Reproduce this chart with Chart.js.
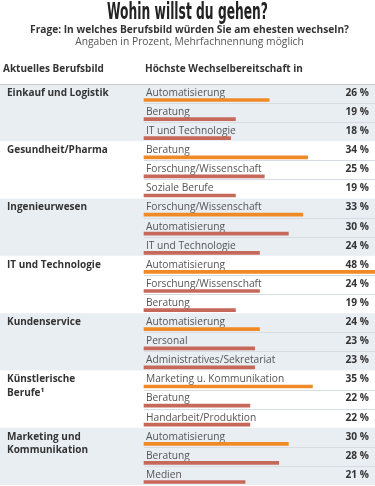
<!DOCTYPE html>
<html>
<head>
<meta charset="utf-8">
<script src="https://cdn.jsdelivr.net/npm/chart.js@4.4.1/dist/chart.umd.min.js"></script>
<style>
  html, body { margin: 0; padding: 0; background: #fff; }
  #wrap { width: 375px; height: 486px; position: relative; }
</style>
</head>
<body>
<div id="wrap"><canvas id="chart" width="375" height="486"></canvas></div>
<script>
// Data
const groupLabels = [
    ['Einkauf und Logistik'],
    ['Gesundheit/Pharma'],
    ['Ingenieurwesen'],
    ['IT und Technologie'],
    ['Kundenservice'],
    ['Künstlerische', 'Berufe¹'],
    ['Marketing und', 'Kommunikation']
];
const groupSizes = [3, 3, 3, 3, 3, 3, 3];
const categories = [
    'Automatisierung', 'Beratung', 'IT und Technologie',
    'Beratung', 'Forschung/Wissenschaft', 'Soziale Berufe',
    'Forschung/Wissenschaft', 'Automatisierung', 'IT und Technologie',
    'Automatisierung', 'Forschung/Wissenschaft', 'Beratung',
    'Automatisierung', 'Personal', 'Administratives/Sekretariat',
    'Marketing u. Kommunikation', 'Beratung', 'Handarbeit/Produktion',
    'Automatisierung', 'Beratung', 'Medien'
];
const values = [
    26, 19, 18,
    34, 25, 19,
    33, 30, 24,
    48, 24, 19,
    24, 23, 23,
    35, 22, 22,
    30, 28, 21
];

const title = 'Wohin willst du gehen?';
const subtitle = 'Frage: In welches Berufsbild würden Sie am ehesten wechseln?';
const note = 'Angaben in Prozent, Mehrfachnennung möglich';
const colHeaders = ['Aktuelles Berufsbild', 'Höchste Wechselbereitschaft in'];

const ORANGE = '#f08a26';
const BROWN = '#c6695b';
const BAND = '#e9eef3';
const FONT = '"Open Sans", "Noto Sans", sans-serif';

// first row of each group is highlighted
const firstRows = [];
let start = 0;
groupSizes.forEach(n => { firstRows.push(start); start += n; });
const barColors = values.map((v, i) => firstRows.includes(i) ? ORANGE : BROWN);

// Draw title, table bands, separators and texts around the bars
const tablePlugin = {
    id: 'tablePlugin',
    beforeDatasetsDraw(chart) {
        const ctx = chart.ctx;
        const y = chart.scales.y;
        const W = chart.width;
        const left = chart.chartArea.left;
        ctx.save();

        // title block (condensed by squeezing a bold face)
        ctx.textAlign = 'center';
        ctx.textBaseline = 'middle';
        ctx.fillStyle = '#222';
        ctx.font = 'bold 23px "DejaVu Sans", sans-serif';
        const tw = ctx.measureText(title).width;
        ctx.save();
        ctx.translate(W / 2, 13);
        ctx.scale(161 / tw, 1);
        ctx.fillText(title, 0, 0);
        ctx.restore();

        ctx.fillStyle = '#333';
        ctx.font = 'bold 10.2px ' + FONT;
        ctx.fillText(subtitle, W / 2 + 2, 30);
        ctx.fillStyle = '#555';
        ctx.font = '10.3px ' + FONT;
        ctx.fillText(note, W / 2 + 2, 42);

        // column headers
        ctx.textAlign = 'left';
        ctx.fillStyle = '#333';
        ctx.font = 'bold 10px ' + FONT;
        ctx.fillText(colHeaders[0], 3, 69);
        ctx.fillText(colHeaders[1], 145, 69);

        // group bands
        let row = 0;
        groupSizes.forEach((n, g) => {
            const top = y.getPixelForValue(row) - 16;
            const bottom = y.getPixelForValue(row + n - 1) + 3;
            if (g % 2 === 0) {
                ctx.fillStyle = BAND;
                ctx.fillRect(0, top, W, bottom - top);
            }
            row += n;
        });

        // top rule
        ctx.strokeStyle = '#c4c9ce';
        ctx.lineWidth = 1;
        ctx.beginPath();
        ctx.moveTo(0, Math.round(y.getPixelForValue(0) - 16) + 0.5);
        ctx.lineTo(W, Math.round(y.getPixelForValue(0) - 16) + 0.5);
        ctx.stroke();

        // row separators inside groups
        ctx.strokeStyle = '#d6dce1';
        row = 0;
        groupSizes.forEach(n => {
            for (let i = row; i < row + n - 1; i++) {
                const py = Math.round(y.getPixelForValue(i) + 3) + 0.5;
                ctx.beginPath();
                ctx.moveTo(left, py);
                ctx.lineTo(W, py);
                ctx.stroke();
            }
            row += n;
        });

        // row texts
        ctx.textBaseline = 'middle';
        categories.forEach((c, i) => {
            const py = y.getPixelForValue(i) - 7;
            ctx.textAlign = 'left';
            ctx.fillStyle = '#555';
            ctx.font = '10.2px ' + FONT;
            ctx.fillText(c, left + 2, py);
            ctx.textAlign = 'right';
            ctx.fillStyle = '#333';
            ctx.font = 'bold 10.2px ' + FONT;
            ctx.fillText(values[i] + ' %', 369, py);
        });

        // group labels
        ctx.textAlign = 'left';
        ctx.fillStyle = '#333';
        ctx.font = 'bold 10px ' + FONT;
        row = 0;
        groupSizes.forEach((n, g) => {
            const py = y.getPixelForValue(row) - 7;
            groupLabels[g].forEach((line, k) => ctx.fillText(line, 7, py + k * 13.5));
            row += n;
        });

        ctx.restore();
    }
};

const chart = new Chart(document.getElementById('chart').getContext('2d'), {
    type: 'bar',
    data: {
        labels: categories,
        datasets: [{
            data: values,
            backgroundColor: barColors,
            barThickness: 3,
            borderWidth: 0,
            borderSkipped: false,
            clip: false
        }]
    },
    options: {
        indexAxis: 'y',
        responsive: false,
        animation: false,
        devicePixelRatio: 1,
        layout: { padding: { left: 144, right: 0, top: 100, bottom: 4 } },
        scales: {
            x: { display: false, min: 0, max: 48 },
            y: { display: false, offset: false }
        },
        plugins: {
            legend: { display: false },
            tooltip: { enabled: false }
        }
    },
    plugins: [tablePlugin]
});
</script>
</body>
</html>
